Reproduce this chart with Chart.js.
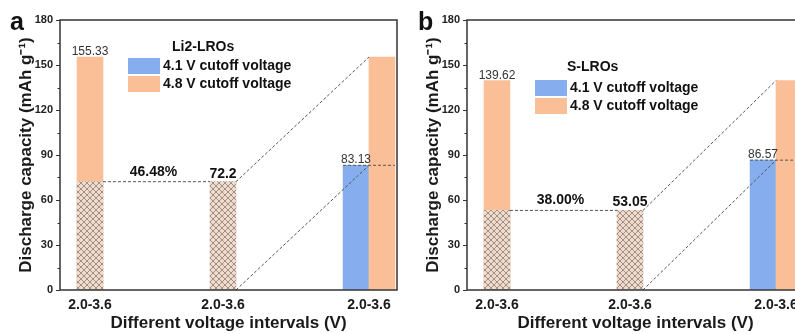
<!DOCTYPE html>
<html>
<head>
<meta charset="utf-8">
<script src="https://cdn.jsdelivr.net/npm/chart.js@4.4.1/dist/chart.umd.min.js"></script>
<style>
  html, body { margin: 0; padding: 0; background: #fff; }
  body { width: 795px; height: 334px; overflow: hidden; position: relative; }
  canvas { position: absolute; top: 0; }
  #chartA { left: 0; }
  #chartB { left: 407px; }
</style>
</head>
<body>
<canvas id="chartA" width="405" height="334"></canvas>
<canvas id="chartB" width="405" height="334"></canvas>
<script>
// one tick label per group
var xLabels = ['2.0-3.6', '2.0-3.6', '2.0-3.6'];
var groupX = [1, 2, 3];
// the 4.8 V bar of the last group sits right beside the 4.1 V bar
var pairGap = 0.195;

// Li2-LROs (a)
var li2Hatched = [72.2, 72.2];      // 2.0-3.6 V part, bar 1 and bar 2
var li2High = [155.33, 155.33];     // 4.8 V cutoff, bar 1 and last group
var li2Low = [83.13];               // 4.1 V cutoff, last group

// S-LROs (b)
var sHatched = [53.05, 53.05];
var sHigh = [139.62, 139.62];
var sLow = [86.57];

var FONT = "'Liberation Sans', Arial, sans-serif";
var BLUE = '#86aeee', ORANGE = '#fbbf98', DASH = '#555';
var xMin = 0.7745, xMax = 3.308;

function hatchPattern(ctx) {
    var c = document.createElement('canvas');
    c.width = 6; c.height = 6;
    var g = c.getContext('2d');
    g.fillStyle = '#ecdccf';
    g.fillRect(0, 0, 6, 6);
    g.strokeStyle = '#8a6c5c';
    g.lineWidth = 0.7;
    g.beginPath();
    g.moveTo(-1, -1); g.lineTo(7, 7);
    g.moveTo(7, -1); g.lineTo(-1, 7);
    g.stroke();
    return ctx.createPattern(c, 'repeat');
}

var panelDeco = {
    id: 'panelDeco',
    afterDraw: function (chart, args, opts) {
        var c = chart.ctx, a = chart.chartArea, ys = chart.scales.y;
        var ds = chart.data.datasets;
        c.save();
        // frame
        c.strokeStyle = '#333';
        c.lineWidth = 1.5;
        c.strokeRect(a.left, a.top, a.right - a.left, a.bottom - a.top);
        // minor ticks between the labelled ones
        c.lineWidth = 1;
        c.beginPath();
        for (var i = 0; i < ys.ticks.length - 1; i++) {
            var mid = (ys.ticks[i].value + ys.ticks[i + 1].value) / 2;
            var py = Math.round(ys.getPixelForValue(mid)) + 0.5;
            c.moveTo(a.left - 2.5, py);
            c.lineTo(a.left, py);
        }
        c.stroke();

        // value labels
        var hatchMeta = chart.getDatasetMeta(4), highMeta = chart.getDatasetMeta(5), lowMeta = chart.getDatasetMeta(6);
        c.textAlign = 'center';
        c.textBaseline = 'alphabetic';
        c.fillStyle = '#333';
        c.font = '12px ' + FONT;
        var e = highMeta.data[0];
        c.fillText(String(ds[5].data[0].y), e.x, e.y - 2);
        e = lowMeta.data[0];
        c.fillText(String(ds[6].data[0].y), e.x, e.y - 2);

        c.fillStyle = '#111';
        c.font = 'bold 14px ' + FONT;
        var h0 = hatchMeta.data[0], h1 = hatchMeta.data[1];
        c.fillText(String(ds[4].data[1].y), h1.x, h1.y - 4);
        var pct = (ds[4].data[0].y / ds[5].data[0].y * 100).toFixed(2) + '%';
        c.fillText(pct, (h0.x + h1.x) / 2 - 3, h0.y - 6);

        // legend inside the plot
        var L = opts.legend;
        c.textAlign = 'left';
        c.textBaseline = 'middle';
        c.fillText(L.title, a.left + L.titleX, a.top + L.titleY);
        [6, 5].forEach(function (di, k) {
            var sy = a.top + L.y + k * 18;
            c.fillStyle = ds[di].backgroundColor;
            c.fillRect(a.left + L.x, sy, 32, 16);
            c.fillStyle = '#111';
            c.fillText(ds[di].label, a.left + L.x + 35, sy + 8.5);
        });

        // panel letter
        c.font = 'bold 25px ' + FONT;
        c.textBaseline = 'alphabetic';
        c.fillText(opts.tag, opts.tagX, 30);
        c.restore();
    }
};

function buildChart(id, hatched, high, low, legend, tag, tagX) {
    var ctx = document.getElementById(id).getContext('2d');
    var half = pairGap / 2;
    var xLast = groupX[2];
    var tickX = [groupX[0], groupX[1], xLast + half];

    function seg(p, q) {
        return { type: 'line', data: [p, q], borderColor: DASH, borderWidth: 1,
                 borderDash: [3, 2], pointRadius: 0, fill: false, order: 0 };
    }

    new Chart(ctx, {
        type: 'bar',
        data: {
            datasets: [
                seg({x: groupX[0] + half, y: hatched[0]}, {x: groupX[1] - half, y: hatched[1]}),
                seg({x: groupX[1] + half, y: hatched[1]}, {x: xLast + half, y: high[1]}),
                seg({x: groupX[1] + half, y: 0}, {x: xLast + half, y: low[0]}),
                seg({x: xLast - half, y: low[0]}, {x: xLast + pairGap + half, y: low[0]}),
                {
                    label: '2.0-3.6 V',
                    data: [{x: groupX[0], y: hatched[0]}, {x: groupX[1], y: hatched[1]}],
                    backgroundColor: hatchPattern(ctx),
                    order: 1
                },
                {
                    label: '4.8 V cutoff voltage',
                    data: [{x: groupX[0], y: high[0]}, {x: xLast + pairGap, y: high[1]}],
                    backgroundColor: ORANGE,
                    order: 2
                },
                {
                    label: '4.1 V cutoff voltage',
                    data: [{x: xLast, y: low[0]}],
                    backgroundColor: BLUE,
                    order: 3
                }
            ]
        },
        options: {
            responsive: false,
            animation: false,
            layout: { padding: { top: 20, right: 8, left: 0, bottom: 0 } },
            datasets: { bar: { grouped: false, categoryPercentage: 1, barPercentage: 1 } },
            plugins: {
                legend: { display: false },
                tooltip: { enabled: false },
                panelDeco: { legend: legend, tag: tag, tagX: tagX }
            },
            scales: {
                x: {
                    type: 'linear', min: xMin, max: xMax, offset: false,
                    afterBuildTicks: function (s) { s.ticks = tickX.map(function (v) { return {value: v}; }); },
                    afterFit: function (s) { s.height = 44; },
                    grid: { display: false, drawTicks: false },
                    border: { display: false },
                    ticks: {
                        callback: function (v, i) { return xLabels[i]; },
                        font: { family: FONT, size: 14, weight: 'bold' },
                        color: '#1a1a1a', padding: 7, maxRotation: 0, autoSkip: false
                    },
                    title: {
                        display: true, text: 'Different voltage intervals (V)',
                        font: { family: FONT, size: 17, weight: 'bold' },
                        color: '#1a1a1a', padding: { top: 0, bottom: 0 }
                    }
                },
                y: {
                    min: 0, max: 180,
                    afterFit: function (s) { s.width = 60; },
                    ticks: { stepSize: 30, font: { family: FONT, size: 11, weight: 'bold' }, color: '#222', padding: 3 },
                    grid: { drawOnChartArea: false, drawTicks: true, tickLength: 4, color: '#333', lineWidth: 1 },
                    border: { display: false },
                    title: {
                        display: true, text: 'Discharge capacity (mAh g⁻¹)',
                        font: { family: FONT, size: 17, weight: 'bold' },
                        color: '#1a1a1a', padding: { top: 16, bottom: 0 }
                    }
                }
            }
        },
        plugins: [panelDeco]
    });
}

buildChart('chartA', li2Hatched, li2High, li2Low,
    { title: 'Li2-LROs', titleX: 112, titleY: 27, x: 68, y: 38 }, 'a', 10);
buildChart('chartB', sHatched, sHigh, sLow,
    { title: 'S-LROs', titleX: 100, titleY: 47, x: 68, y: 60 }, 'b', 11);
</script>
</body>
</html>
